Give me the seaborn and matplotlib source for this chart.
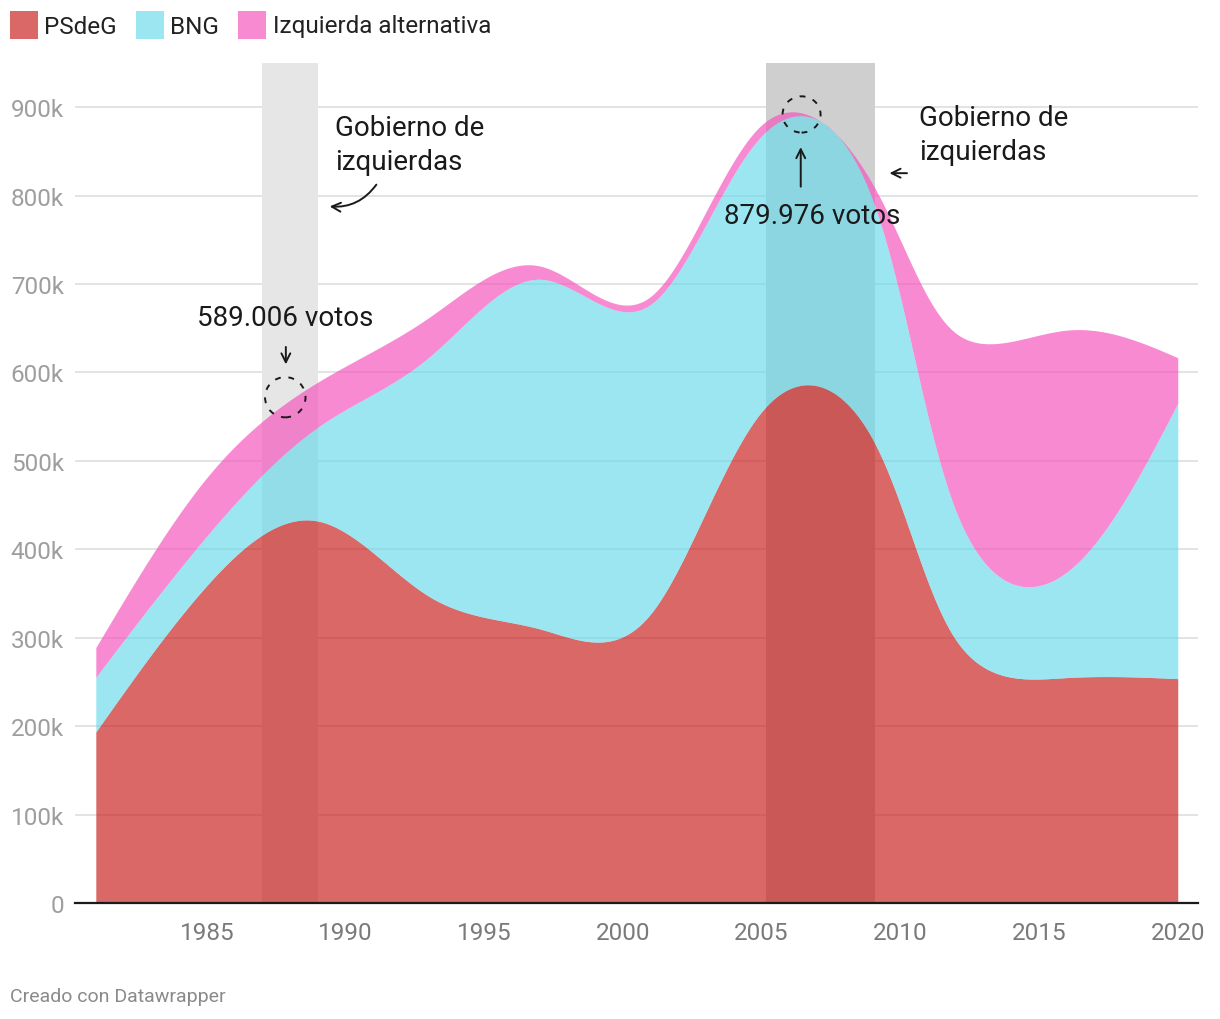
import matplotlib

matplotlib.use("Agg")

import matplotlib.pyplot as plt
import numpy as np
import seaborn as sns
from matplotlib.patches import Ellipse, FancyArrowPatch, Rectangle

# Galician regional elections, votes per bloc
years = [1981, 1985, 1989, 1993, 1997, 2001, 2005, 2009, 2012, 2016, 2020]
psdeg = [193456, 359000, 432000, 347000, 310000, 327000, 555603, 524488, 297584, 254916, 253750]
bng = [61870, 56000, 106000, 270000, 395435, 350000, 311954, 270712, 146027, 119446, 311340]
izq_alt = [33497, 66000, 51006, 45000, 15000, 9000, 12419, 18000, 200828, 273523, 51630]

series_names = ["PSdeG", "BNG", "Izquierda alternativa"]
series_colors = ["#C71E1D", "#6ADAEA", "#F551BC"]
AREA_ALPHA = 0.67

y_ticks = [0, 100000, 200000, 300000, 400000, 500000, 600000, 700000, 800000, 900000]
y_ticklabels = ["0", "100k", "200k", "300k", "400k", "500k", "600k", "700k", "800k", "900k"]
x_ticks = [1985, 1990, 1995, 2000, 2005, 2010, 2015, 2020]

# periods of left-wing government
gov_periods = [(1987.0, 1989.0, "#E6E6E6"), (2005.15, 2009.1, "#CFCFCF")]


def natural_curve(values, steps=40):
    """Natural cubic spline through the points (like d3.curveNatural)."""
    v = np.asarray(values, dtype=float)
    n = len(v)
    a = np.zeros((n, n))
    rhs = np.zeros(n)
    a[0, 0] = a[-1, -1] = 1.0
    for i in range(1, n - 1):
        a[i, i - 1], a[i, i], a[i, i + 1] = 1.0, 4.0, 1.0
        rhs[i] = 6.0 * (v[i + 1] - 2.0 * v[i] + v[i - 1])
    m = np.linalg.solve(a, rhs)
    parts = []
    for i in range(n - 1):
        t = np.linspace(0.0, 1.0, steps, endpoint=(i == n - 2))
        seg = (1 - t) * v[i] + t * v[i + 1]
        seg += ((1 - t) ** 3 - (1 - t)) * m[i] / 6.0 + (t ** 3 - t) * m[i + 1] / 6.0
        parts.append(seg)
    return np.concatenate(parts)


sns.set_theme(style="white")
plt.rcParams["font.family"] = ["Roboto", "DejaVu Sans"]

W, H = 1220, 1020
fig = plt.figure(figsize=(W / 100, H / 100), dpi=100)
ax = fig.add_axes([75 / W, 1 - 904 / H, (1198 - 75) / W, (904 - 64) / H])

ax.set_xlim(1980.25, 2020.73)
ax.set_ylim(0, 950000)

# gridlines behind everything
for yv in y_ticks[1:]:
    ax.axhline(yv, color="#E3E3E3", lw=1.4, zorder=0)

for x0, x1, col in gov_periods:
    ax.axvspan(x0, x1, color=col, lw=0, zorder=1)

# stacked areas, smoothed
xs = natural_curve(years)
stack = np.vstack([psdeg, bng, izq_alt]).astype(float)
cum = np.cumsum(stack, axis=0)
lower = np.zeros_like(xs)
for k, (name, col) in enumerate(zip(series_names, series_colors)):
    upper = natural_curve(cum[k])
    ax.fill_between(xs, lower, upper, color=col, alpha=AREA_ALPHA, lw=0, zorder=2)
    lower = upper

# axes styling
for side in ["left", "right", "top"]:
    ax.spines[side].set_visible(False)
ax.spines["bottom"].set_color("#1a1a1a")
ax.spines["bottom"].set_linewidth(1.6)
ax.spines["bottom"].set_zorder(6)

ax.set_yticks(y_ticks)
ax.set_yticklabels(y_ticklabels)
ax.set_xticks(x_ticks)
ax.set_xticklabels([str(y) for y in x_ticks])
ax.tick_params(axis="y", length=0, pad=8, labelsize=17.5, labelcolor="#9E9E9E")
ax.tick_params(axis="x", length=0, pad=13, labelsize=17.5, labelcolor="#7A7A7A")
ax.set_xlabel("")
ax.set_ylabel("")
ax.grid(False)

# annotations
ink = "#1a1a1a"
ax.text(1987.81, 662000, "589.006 votos", ha="center", va="center", fontsize=20, color=ink, zorder=7)
ax.add_patch(FancyArrowPatch((1987.85, 632000), (1987.85, 606000), arrowstyle="->", mutation_scale=16,
                             lw=1.4, color=ink, zorder=7))
ax.add_patch(Ellipse((1987.83, 572000), 1.46, 45500, fill=False, ls=(0, (3, 4)), lw=1.4,
                     edgecolor=ink, zorder=7))

ax.text(2006.81, 778000, "879.976 votos", ha="center", va="center", fontsize=20, color=ink, zorder=7)
ax.add_patch(FancyArrowPatch((2006.41, 807000), (2006.41, 858000), arrowstyle="->", mutation_scale=16,
                             lw=1.4, color=ink, zorder=7))
ax.add_patch(Ellipse((2006.44, 891800), 1.37, 41000, fill=False, ls=(0, (3, 4)), lw=1.4,
                     edgecolor=ink, zorder=7))

ax.text(1989.62, 857500, "Gobierno de\nizquierdas", ha="left", va="center", fontsize=20,
        color=ink, linespacing=1.32, zorder=7)
ax.add_patch(FancyArrowPatch((1991.17, 815000), (1989.33, 788000), arrowstyle="->", mutation_scale=16,
                             connectionstyle="arc3,rad=-0.3", lw=1.4, color=ink, zorder=7))

ax.text(2010.67, 869000, "Gobierno de\nizquierdas", ha="left", va="center", fontsize=20,
        color=ink, linespacing=1.32, zorder=7)
ax.add_patch(FancyArrowPatch((2010.34, 825400), (2009.51, 825400), arrowstyle="->", mutation_scale=16,
                             lw=1.4, color=ink, zorder=7))

# legend
sq_x = [10, 136, 238]
txt_x = [44, 170, 273]
for name, col, sx, tx in zip(series_names, series_colors, sq_x, txt_x):
    fig.add_artist(Rectangle((sx / W, 1 - 40 / H), 28 / W, 28 / H, transform=fig.transFigure,
                             facecolor=col, alpha=AREA_ALPHA, lw=0))
    fig.text(tx / W, 1 - 27 / H, name, ha="left", va="center", fontsize=17.5, color="#222222")

fig.text(10 / W, 1 - 997 / H, "Creado con Datawrapper", ha="left", va="center", fontsize=14,
         color="#8A8A8A")

fig.savefig("out.png", dpi=100)
plt.close(fig)
